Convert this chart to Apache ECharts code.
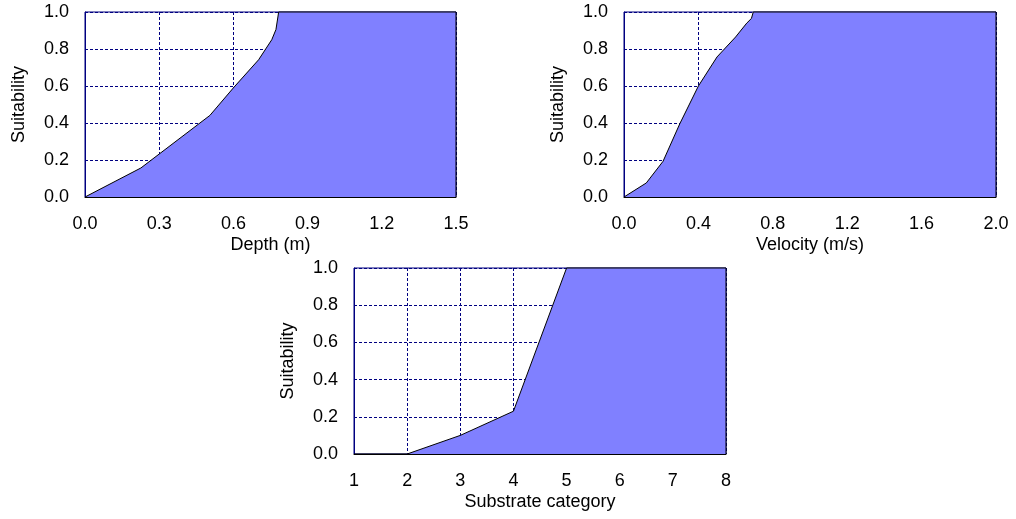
<!DOCTYPE html>
<html>
<head>
<meta charset="utf-8">
<script src="https://cdn.jsdelivr.net/npm/echarts@6/dist/echarts.min.js"></script>
<style>
html,body{margin:0;padding:0;background:#fff;}
#c{width:1016px;height:519px;}
</style>
</head>
<body>
<div id="c"></div>
<script>
// Depth suitability
const depthX = [0, 0.226, 0.505, 0.60, 0.702, 0.755, 0.772, 0.783, 1.5, 1.5];
const depthY = [0, 0.157, 0.441, 0.59, 0.742, 0.85, 0.905, 1.0, 1.0, 0];
// Velocity suitability
const velX = [0, 0.12, 0.21, 0.30, 0.40, 0.50, 0.60, 0.66, 0.685, 0.695, 2.0, 2.0];
const velY = [0, 0.076, 0.193, 0.396, 0.60, 0.757, 0.865, 0.94, 0.965, 1.0, 1.0, 0];
// Substrate suitability
const subX = [1, 2, 3, 4, 5, 8, 8];
const subY = [0, 0, 0.10, 0.23, 1.0, 1.0, 0];

const axisNames = ['Depth (m)', 'Velocity (m/s)', 'Substrate category'];
const yName = 'Suitability';
const xRanges = [[0, 1.5, 0.3, 1], [0, 2.0, 0.4, 1], [1, 8, 1, 0]];

const NAVY = '#000080';
const FONT = 'Arial, "Liberation Sans", sans-serif';
const FS = 18;
const grids = [
  {left: 85, top: 12, width: 371, height: 185},
  {left: 624, top: 12, width: 372, height: 185},
  {left: 354, top: 268, width: 372, height: 186}
];
const datasets = [[depthX, depthY], [velX, velY], [subX, subY]];

const option = {
  backgroundColor: '#fff',
  animation: false,
  grid: grids.map(g => Object.assign({show: true, borderColor: NAVY, borderWidth: 1, backgroundColor: 'transparent', outerBoundsMode: 'none', containLabel: false}, g)),
  xAxis: xRanges.map((r, i) => ({
    type: 'value', gridIndex: i, min: r[0], max: r[1], interval: r[2],
    name: axisNames[i], nameLocation: 'middle', nameGap: 39,
    nameTextStyle: {fontFamily: FONT, fontSize: FS, color: '#000'},
    axisLine: {show: true, onZero: false, lineStyle: {color: '#000', width: 1}},
    axisTick: {show: false},
    axisLabel: {fontFamily: FONT, fontSize: FS, color: '#000', margin: 18,
      formatter: v => v.toFixed(r[3])},
    splitLine: {show: true, lineStyle: {color: NAVY, type: [3, 2], width: 1}}
  })),
  yAxis: xRanges.map((r, i) => ({
    type: 'value', gridIndex: i, min: 0, max: 1, interval: 0.2,
    name: yName, nameLocation: 'middle', nameGap: 57,
    nameTextStyle: {fontFamily: FONT, fontSize: FS, color: '#000'},
    axisLine: {show: true, lineStyle: {color: NAVY, width: 1}},
    axisTick: {show: false},
    axisLabel: {fontFamily: FONT, fontSize: FS, color: '#000', margin: 16,
      formatter: v => v.toFixed(1)},
    splitLine: {show: true, lineStyle: {color: NAVY, type: [3, 2], width: 1}}
  })),
  series: datasets.map((d, i) => ({
    type: 'line', xAxisIndex: i, yAxisIndex: i,
    data: d[0].map((x, k) => [x, d[1][k]]),
    showSymbol: false, symbol: 'none',
    lineStyle: {color: '#000', width: 1},
    areaStyle: {color: '#8080FF', opacity: 1, origin: 'start'},
    clip: false
  }))
};
echarts.init(document.getElementById('c')).setOption(option);
</script>
</body>
</html>
